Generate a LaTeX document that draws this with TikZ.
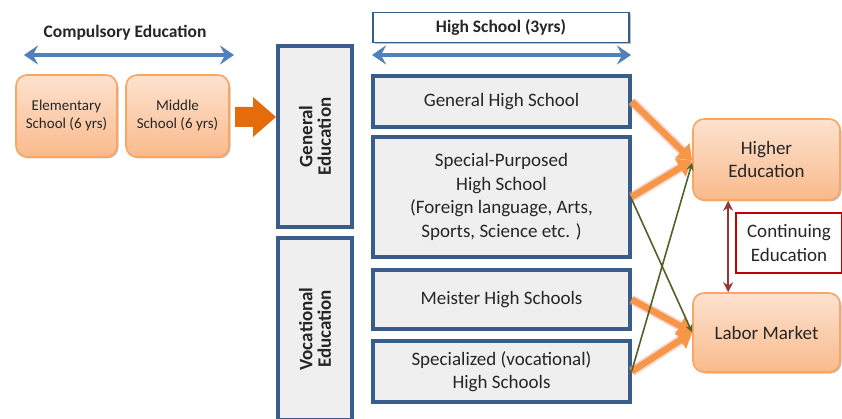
\documentclass[tikz,border=0pt]{standalone}
\usepackage{fontspec}
\setmainfont{Carlito}
\usetikzlibrary{arrows.meta,shadows}
\definecolor{ink}{HTML}{262626}
\definecolor{navy}{HTML}{385D8A}
\definecolor{skyline}{HTML}{4F81BD}
\definecolor{panel}{HTML}{EFEFEF}
\definecolor{peachtop}{HTML}{FDE2CF}
\definecolor{peachbot}{HTML}{F9BA8C}
\definecolor{tangerine}{HTML}{F79646}
\definecolor{routeglow}{HTML}{F4A6A0}
\definecolor{pumpkin}{HTML}{E46C0A}
\definecolor{olive}{HTML}{4F6228}
\definecolor{maroon}{HTML}{953735}
\definecolor{crimson}{HTML}{C00000}
\newcommand{\bodyfont}{\fontsize{19}{23.5}\selectfont}
\newcommand{\headfont}{\bfseries\fontsize{17.5}{20}\selectfont}
\newcommand{\sidefont}{\bfseries\fontsize{19}{18.5}\selectfont}
\newcommand{\smallfont}{\fontsize{15}{18}\selectfont}
\tikzset{
  softshadow/.style={drop shadow={shadow xshift=1.5pt,shadow yshift=-1.5pt,
                     opacity=.25,fill=black}},
  schoolbox/.style={draw=navy,line width=3.2pt,fill=panel,align=center,
                    text=ink,font=\bodyfont,inner sep=0pt,softshadow},
  sidebox/.style={schoolbox,font=\sidefont,rotate=90},
  stagebox/.style={draw=tangerine!85,line width=1.6pt,rounded corners=11pt,
                   top color=peachtop,bottom color=peachbot,align=center,
                   text=ink,inner sep=0pt,softshadow},
  spanarrow/.style={skyline,line width=4pt,
                    {Stealth[length=14pt,width=19pt,inset=5pt]}-{Stealth[length=14pt,width=19pt,inset=5pt]}},
  mainroute/.style={tangerine,line width=6.5pt,-{Triangle[length=14pt,width=20pt]},
                    preaction={draw=routeglow,opacity=.45,line width=10pt,-,shorten >=10pt}},
  crossroute/.style={olive,line width=1.6pt,-{Stealth[length=8pt,width=7pt]}},
  every node/.style={text=ink}
}

\begin{document}
\begin{tikzpicture}[x=1pt,y=-1pt]
  \useasboundingbox (0,0) rectangle (842,419);
  \clip (0,0) rectangle (842,419);
  \fill[white] (0,0) rectangle (842,419);

  % ===================== COMPULSORY STAGE =====================
  \node[font=\headfont] (comp) at (125,33) {Compulsory Education};
  \coordinate (compL) at (24,55);
  \coordinate (compR) at (234,55);
  \draw[spanarrow] (compL)--(compR);

  \node[stagebox,minimum width=101,minimum height=82,font=\smallfont]
    (elem) at (66.5,116) {Elementary\\School (6 yrs)};
  \node[stagebox,minimum width=103,minimum height=82,font=\smallfont]
    (mid) at (177.5,116) {Middle\\School (6 yrs)};

  % block arrow into the track column
  \fill[pumpkin] (235,107)--(253,107)--(253,97)--(276,117)--(253,137)--(253,127)
    --(235,127)--cycle;

  % ===================== TRACK COLUMN =====================
  \node[sidebox,minimum width=181,minimum height=74] (gen) at (315,136.5)
    {General\\Education};
  \node[sidebox,minimum width=182,minimum height=74] (voc) at (315,329)
    {Vocational\\Education};

  % ===================== HIGH SCHOOL COLUMN =====================
  \node[draw=navy,line width=1.4pt,fill=white,minimum width=256,minimum height=30,
        font=\headfont,softshadow] (hs) at (501,27.5) {High School (3yrs)};
  \coordinate (hsL) at (372,55);
  \coordinate (hsR) at (631,55);
  \draw[spanarrow] (hsL)--(hsR);

  \node[schoolbox,minimum width=257,minimum height=51] (ghs) at (501.5,101.5)
    {General High School};
  \node[schoolbox,minimum width=257,minimum height=120] (sphs) at (501.5,197)
    {Special-Purposed\\High School\\(Foreign language, Arts,\\Sports, Science etc. )};
  \node[schoolbox,minimum width=257,minimum height=59] (mhs) at (501.5,299.5)
    {Meister High Schools};
  \node[schoolbox,minimum width=257,minimum height=61] (vhs) at (501.5,371.5)
    {Specialized (vocational)\\High Schools};

  % ===================== OUTCOMES =====================
  \node[stagebox,minimum width=147,minimum height=81,font=\bodyfont]
    (higher) at (766.5,159.5) {Higher\\Education};
  \node[stagebox,minimum width=147,minimum height=79,font=\bodyfont]
    (labor) at (766.5,332.5) {Labor Market};
  \node[draw=crimson,line width=2.4pt,fill=white,minimum width=106,minimum height=60,
        align=center,font=\bodyfont,inner sep=0pt] (cont) at (789,243)
    {Continuing\\Education};
  \draw[maroon,line width=2.2pt,
        {Stealth[length=10pt,width=10pt]}-{Stealth[length=10pt,width=10pt]}]
    ([xshift=36pt]higher.south west)--([xshift=36pt]labor.north west);

  % main routes
  \draw[mainroute] (ghs.east)--([yshift=-1pt]higher.west);
  \draw[mainroute] (sphs.east)--([yshift=-1pt]higher.west);
  \draw[mainroute] (mhs.east)--(labor.west);
  \draw[mainroute] (vhs.east)--(labor.west);

  % cross routes
  \draw[crossroute] ([yshift=-2pt]sphs.east)--(labor.west);
  \draw[crossroute] (vhs.east)--([yshift=-3pt]higher.west);
\end{tikzpicture}
\end{document}
